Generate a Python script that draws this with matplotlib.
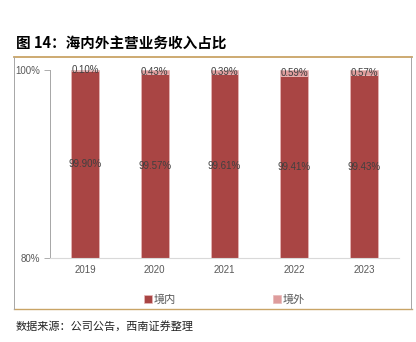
import numpy as np
import matplotlib
matplotlib.use("Agg")
import matplotlib.pyplot as plt
from matplotlib.lines import Line2D

plt.rcParams['font.family'] = ['Liberation Sans', 'Noto Sans CJK SC']

# =========================================================
# DATA
years = ['2019', '2020', '2021', '2022', '2023']
domestic = [99.90, 99.57, 99.61, 99.41, 99.43]
overseas = [0.10, 0.43, 0.39, 0.59, 0.57]
series_names = ['境内', '境外']
y_ticks = [80, 100]
y_tick_labels = ['80%', '100%']

title = '图 14：海内外主营业务收入占比'
source = '数据来源：公司公告，西南证券整理'

c_dom = '#A94544'
c_ovs = '#DE9C9C'
c_text = '#595959'
gold = '#C9A466'

fig = plt.figure(figsize=(4.16, 3.42), dpi=100)
ax = fig.add_axes([50/416, 1-258/342, 349/416, 188/342])

x = np.arange(len(years))
w = 0.4
ax.bar(x, domestic, w, color=c_dom, edgecolor='#E8B8B8', linewidth=0.5, label=series_names[0])
ax.bar(x, overseas, w, bottom=domestic, color=c_ovs, edgecolor='#E8B8B8', linewidth=0.5, label=series_names[1])

ax.set_ylim(80, 100)
ax.set_xlim(-0.5, len(years) - 0.5)
ax.set_yticks(y_ticks)
ax.set_yticklabels(y_tick_labels)
ax.set_xticks(x)
ax.set_xticklabels(years)
ax.tick_params(axis='y', colors='#A0A0A0', labelcolor=c_text, labelsize=7, length=4, width=0.6, pad=3)
ax.tick_params(axis='x', length=0, labelcolor=c_text, labelsize=7, pad=5)
for s in ['top', 'right']:
    ax.spines[s].set_visible(False)
ax.spines['left'].set_color('#A6A6A6')
ax.spines['left'].set_linewidth(0.7)
ax.spines['bottom'].set_color('#D9D9D9')
ax.spines['bottom'].set_linewidth(0.8)

# value labels
for i in range(len(years)):
    ax.text(x[i], (80 + domestic[i]) / 2, f'{domestic[i]:.2f}%', ha='center', va='center',
            fontsize=7, color='#404040')
    ax.text(x[i], domestic[i] + overseas[i] / 2, f'{overseas[i]:.2f}%', ha='center', va='center',
            fontsize=7, color='#404040')

leg = ax.legend(loc='center', bbox_to_anchor=(0.5, -0.22), ncol=2, frameon=False,
                fontsize=8, handlelength=0.7, handleheight=0.7, handletextpad=0.2,
                columnspacing=8.7, labelcolor=c_text)

# title, frame and source
fig.text(16/416, 1-43/342, title, fontsize=10.5, fontweight='bold', va='center', ha='left',
         color='black', family=['Noto Sans CJK SC'])
fig.add_artist(Line2D([14/416, 412/416], [1-56.5/342, 1-56.5/342], color=gold, lw=1.3))
fig.add_artist(Line2D([14/416, 412/416], [1-309/342, 1-309/342], color=gold, lw=1.0))
fig.add_artist(Line2D([14/416, 14/416], [1-57/342, 1-309/342], color='#A6A6A6', lw=0.7))
fig.add_artist(Line2D([411/416, 411/416], [1-57/342, 1-309/342], color='#A6A6A6', lw=0.7))
fig.text(16/416, 1-326/342, source, fontsize=8, va='center', ha='left', color='#222222',
         family=['Noto Sans CJK SC'])

fig.savefig('out.png', dpi=100)
